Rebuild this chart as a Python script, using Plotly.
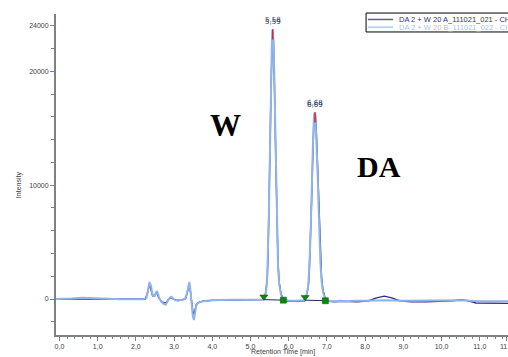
import plotly.graph_objects as go

# ---------------- data ----------------
series_names = ["DA 2 + W 20 A_111021_021 - CH1", "DA 2 + W 20 B_111021_022 - CH1"]

time_A = [-0.1, 0.5, 1.0, 2.0, 2.25, 2.31, 2.35, 2.39, 2.44, 2.50, 2.55, 2.60, 2.66, 2.74, 2.80, 2.86,
          2.92, 2.98, 3.05, 3.20, 3.30, 3.35, 3.39, 3.42, 3.46, 3.50, 3.54, 3.58, 3.64, 3.75, 4.0, 4.5,
          5.0, 5.35, 5.40, 5.44, 5.46, 5.48, 5.50, 5.52, 5.54, 5.56, 5.58, 5.60, 5.62, 5.64, 5.66, 5.68,
          5.70, 5.72, 5.75, 5.80, 5.88, 6.0, 6.2, 6.42, 6.48, 6.52, 6.54, 6.56, 6.58, 6.60, 6.62, 6.64,
          6.66, 6.68, 6.70, 6.72, 6.74, 6.76, 6.78, 6.80, 6.83, 6.86, 6.90, 6.96, 7.05, 7.2, 7.4, 7.6,
          7.8, 8.1, 8.3, 8.5, 8.7, 8.9, 9.2, 9.6, 10.0, 10.3, 10.5, 10.7, 10.9, 11.2, 11.8]
intensity_A = [0, 0, 0, -30, 0, 600, 1300, 900, 250, 400, 550, 100, -150, -350, -300, 0,
               150, 0, -100, -80, 0, 600, 1300, 900, -300, -1300, -1100, -500, -300, -200, -120, -80,
               -60, -40, 600, 1900, 3800, 6700, 10400, 14800, 19000, 22200, 23500, 22900, 20700, 16800, 12600, 8700,
               5500, 3300, 1500, 450, -150, -200, -200, -150, 500, 1300, 2400, 4000, 6000, 8600, 11300, 13800,
               15600, 16300, 16200, 15100, 13300, 11000, 8600, 6200, 3600, 1900, 750, 0, -200, -250, -200, -250,
               -250, -150, 100, 250, 100, -150, -250, -250, -200, -150, -50, -150, -350, -380, -380]

time_B = [-0.1, 0.0, 0.3, 0.6, 0.9, 1.2, 1.6, 2.0, 2.2, 2.28, 2.33, 2.36, 2.40, 2.44, 2.49, 2.54,
          2.57, 2.61, 2.66, 2.72, 2.78, 2.83, 2.88, 2.93, 2.97, 3.02, 3.10, 3.20, 3.28, 3.33, 3.37, 3.40,
          3.43, 3.46, 3.49, 3.52, 3.55, 3.58, 3.62, 3.70, 3.85, 4.0, 4.5, 5.0, 5.3, 5.38, 5.42, 5.44,
          5.46, 5.48, 5.50, 5.52, 5.54, 5.56, 5.58, 5.60, 5.62, 5.64, 5.66, 5.68, 5.70, 5.72, 5.75, 5.80,
          5.86, 6.0, 6.2, 6.40, 6.46, 6.50, 6.52, 6.54, 6.56, 6.58, 6.60, 6.62, 6.64, 6.66, 6.68, 6.70,
          6.72, 6.74, 6.76, 6.78, 6.80, 6.83, 6.86, 6.90, 6.95, 7.02, 7.2, 7.35, 7.5, 7.7, 8.0, 8.5,
          9.0, 9.5, 10.0, 10.5, 11.0, 11.8]
intensity_B = [0, 0, 50, 120, 60, 0, -30, -30, -20, 100, 800, 1500, 1100, 300, 250, 700,
               550, 100, -200, -400, -500, -250, 100, 200, 50, -100, -150, -100, 0, 400, 1100, 1500,
               700, -500, -1500, -1850, -1300, -600, -350, -250, -150, -100, -60, -50, -50, 150, 1000, 2200,
               4200, 7200, 11000, 15400, 19500, 22600, 23700, 22700, 20200, 16200, 12000, 8200, 5100, 3000, 1300, 350,
               -50, -150, -150, -100, 250, 900, 1550, 2800, 4500, 6600, 10000, 12300, 14300, 15900, 16400, 15900,
               14600, 13000, 10800, 8300, 5800, 3200, 1600, 600, 50, -150, -200, -150, -200, -150, -150, -100,
               -150, -150, -150, -100, -200, -200]

peak_times = [5.58, 6.69]
peak_heights = [23700, 16400]
peak_labels_A = ["5,58", "6,68"]
peak_labels_B = ["5,59", "6,69"]
peak_start_times = [5.35, 6.43]
peak_start_values = [-50, -100]
peak_end_times = [5.86, 6.96]
peak_end_values = [-100, -150]

x_tick_values = [0, 1, 2, 3, 4, 5, 6, 7, 8, 9, 10, 11, 11.7]
x_tick_text = ["0,0", "1,0", "2,0", "3,0", "4,0", "5,0", "6,0", "7,0", "8,0", "9,0", "10,0", "11,0", "11,7"]
y_tick_values = [0, 10000, 20000, 24000]
y_tick_text = ["0", "10000", "20000", "24000"]

compound_labels = ["W", "DA"]

# ---------------- styles ----------------
DARK = "#30308c"
LIGHT = "#8fb4ec"
FONT = "Liberation Sans"
AX = "#808080"

fig = go.Figure()
fig.add_trace(go.Scatter(x=time_A, y=intensity_A, mode="lines", name=series_names[0],
                         line=dict(color=DARK, width=1.4), showlegend=False))
fig.add_trace(go.Scatter(x=time_B, y=intensity_B, mode="lines", name=series_names[1],
                         line=dict(color=LIGHT, width=2.0), showlegend=False))

# integration baselines
for s_t, s_v, e_t, e_v in zip(peak_start_times, peak_start_values, peak_end_times, peak_end_values):
    fig.add_trace(go.Scatter(x=[s_t, e_t], y=[s_v, e_v], mode="lines",
                             line=dict(color="#1c2c50", width=1), showlegend=False))

marker_lift = 250
fig.add_trace(go.Scatter(x=peak_start_times, y=[v + marker_lift for v in peak_start_values], mode="markers",
                         marker=dict(symbol="triangle-down", size=7, color="#0a8a0a",
                                     line=dict(color="#064a06", width=0.5)), showlegend=False))
fig.add_trace(go.Scatter(x=peak_end_times, y=peak_end_values, mode="markers",
                         marker=dict(symbol="square", size=6, color="#0a8a0a",
                                     line=dict(color="#064a06", width=0.5)), showlegend=False))

# red apex markers
red_len = 900
for t, h in zip(peak_times, peak_heights):
    fig.add_trace(go.Scatter(x=[t, t], y=[h, h - red_len], mode="lines",
                             line=dict(color="#e0202a", width=1.5), showlegend=False))

annotations = []
for t, h, la, lb in zip(peak_times, peak_heights, peak_labels_A, peak_labels_B):
    annotations.append(dict(x=t, y=h, xref="x", yref="y", text=la, showarrow=False,
                            yanchor="bottom", yshift=3, font=dict(family="DejaVu Sans", size=7, color="#3a4e6e")))
    annotations.append(dict(x=t, y=h, xref="x", yref="y", text=lb, showarrow=False,
                            yanchor="bottom", yshift=1, font=dict(family="DejaVu Sans", size=7, color="#2c405e")))

# big compound labels (left edge anchored)
annotations.append(dict(x=(208 - 56) / 452, y=0.654, xref="paper", yref="paper", xanchor="left",
                        text="<b>%s</b>" % compound_labels[0],
                        showarrow=False, font=dict(family="Liberation Serif", size=31, color="black")))
annotations.append(dict(x=(355 - 56) / 452, y=0.526, xref="paper", yref="paper", xanchor="left",
                        text="<b>%s</b>" % compound_labels[1],
                        showarrow=False, font=dict(family="Liberation Serif", size=30, color="black")))

# axis titles
annotations.append(dict(x=0.502, y=-0.053, xref="paper", yref="paper", text="Retention Time [min]",
                        showarrow=False, yanchor="middle", font=dict(family=FONT, size=7, color="#404040")))
annotations.append(dict(x=-0.095, y=0.467, xref="paper", yref="paper", text="Intensity", textangle=-90,
                        showarrow=False, font=dict(family=FONT, size=7, color="#404040")))

# manual legend
shapes = [dict(type="rect", xref="paper", yref="paper", x0=0.686, x1=1.05, y0=0.944, y1=1.003,
               line=dict(color="black", width=1), fillcolor="white", layer="above")]
legend_rows = [(0.983, "#5a5aa8", "#303078"), (0.959, "#a8ccf2", "#a8c8f0")]
for (yy, lc, tc), name in zip(legend_rows, series_names):
    shapes.append(dict(type="line", xref="paper", yref="paper", x0=0.690, x1=0.746, y0=yy, y1=yy,
                       line=dict(color=lc, width=1.5), layer="above"))
    annotations.append(dict(x=0.754, y=yy, xref="paper", yref="paper", text=name, showarrow=False,
                            xanchor="left", yanchor="middle", font=dict(family=FONT, size=7.5, color=tc)))

fig.update_layout(
    width=508, height=357,
    margin=dict(l=56, r=0, t=14, b=22, autoexpand=False),
    paper_bgcolor="white", plot_bgcolor="white",
    showlegend=False,
    annotations=annotations, shapes=shapes,
    xaxis=dict(range=[-0.09, 11.74], tickmode="array", tickvals=x_tick_values, ticktext=x_tick_text,
               ticks="outside", ticklen=4, tickcolor=AX, tickwidth=1, ticklabeloverflow="allow",
               showline=True, linecolor=AX, linewidth=2, showgrid=False, zeroline=False,
               tickfont=dict(family=FONT, size=7, color="#404040"),
               minor=dict(dtick=0.2, tick0=0, ticks="outside", ticklen=2, tickcolor=AX)),
    yaxis=dict(range=[-3160, 25040], tickmode="array", tickvals=y_tick_values, ticktext=y_tick_text,
               ticks="outside", ticklen=4, tickcolor=AX, tickwidth=1,
               showline=True, linecolor=AX, linewidth=2, showgrid=False, zeroline=False,
               tickfont=dict(family=FONT, size=7, color="#404040"),
               minor=dict(dtick=2000, tick0=0, ticks="outside", ticklen=3, tickcolor=AX)),
)

fig.write_html("out.html", config={"displayModeBar": False},
               post_script="document.body.style.margin='0';document.body.style.padding='0';"
                           "document.body.style.overflow='hidden';")
